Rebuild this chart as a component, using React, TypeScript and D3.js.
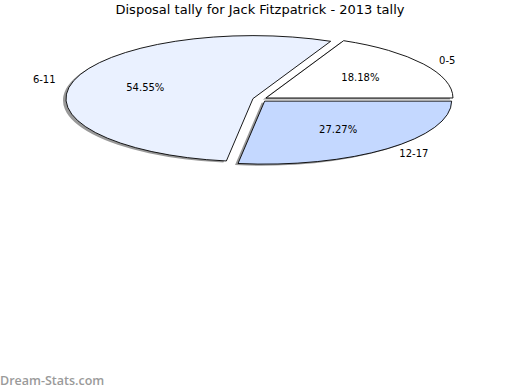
import React from "react";
import * as d3 from "d3";

const categories = ["0-5", "6-11", "12-17"];
const values = [2, 6, 3];
const colors = ["#ffffff", "#eaf1ff", "#c4d8ff"];
const title = "Disposal tally for Jack Fitzpatrick - 2013 tally";

const W = 520;
const H = 390;
const cx = 259.9;
const cy = 99.3;
const rx = 187;
const ry = 63;
const explode = 0.0386;
const shadowDx = -3;
const shadowDy = 1.6;

export default function App() {
  const pie = d3
    .pie<number>()
    .sort(null)
    .startAngle(Math.PI / 2)
    .endAngle(Math.PI / 2 - 2 * Math.PI);
  const arcs = pie(values);
  const total = d3.sum(values);
  const pt = (a: number, r: number, ox: number, oy: number) => [
    ox + r * rx * Math.sin(a),
    oy - r * ry * Math.cos(a),
  ];

  const wedges = arcs.map((d, i) => {
    const mid = (d.startAngle + d.endAngle) / 2;
    const [ax, ay] = pt(mid, explode, cx, cy);
    const [sx, sy] = pt(d.startAngle, 1, ax, ay);
    const [ex, ey] = pt(d.endAngle, 1, ax, ay);
    const large = Math.abs(d.endAngle - d.startAngle) > Math.PI ? 1 : 0;
    const path = `M${ax},${ay}L${sx},${sy}A${rx},${ry} 0 ${large} 0 ${ex},${ey}Z`;
    const [px, py] = pt(mid, 0.6, ax, ay);
    const [lx, ly] = pt(mid, 1.1, ax, ay);
    const pct = ((values[i] / total) * 100).toFixed(2) + "%";
    return { path, px, py, lx, ly, pct, anchor: Math.sin(mid) > 0 ? "start" : "end", i };
  });

  return (
    <svg width={W} height={H} style={{ display: "block", position: "absolute", left: 0, top: 0 }}>
      <defs>
        <filter id="blur" x="-10%" y="-10%" width="120%" height="120%">
          <feGaussianBlur stdDeviation="0.7" />
        </filter>
      </defs>
      <rect width={W} height={H} fill="#ffffff" />
      <text x={260} y={14} textAnchor="middle" fontFamily="DejaVu Sans" fontSize={13} fill="#000">
        {title}
      </text>
      <g>
        {wedges.map((w) => (
          <path
            key={"s" + w.i}
            d={w.path}
            transform={`translate(${shadowDx},${shadowDy})`}
            fill="#6e6e6e"
            opacity={0.7}
            filter="url(#blur)"
          />
        ))}
        {wedges.map((w) => (
          <path key={"w" + w.i} d={w.path} fill={colors[w.i]} stroke="#000" strokeWidth={0.9} strokeLinejoin="miter" />
        ))}
        {wedges.map((w) => (
          <text
            key={"p" + w.i}
            x={w.px}
            y={w.py}
            textAnchor="middle"
            dominantBaseline="central"
            fontFamily="DejaVu Sans"
            fontSize={10}
            fill="#000"
          >
            {w.pct}
          </text>
        ))}
        {wedges.map((w) => (
          <text
            key={"l" + w.i}
            x={w.lx}
            y={w.ly}
            textAnchor={w.anchor}
            dominantBaseline="central"
            fontFamily="DejaVu Sans"
            fontSize={10}
            fill="#000"
          >
            {categories[w.i]}
          </text>
        ))}
      </g>
      <text x={0} y={385} fontFamily="Open Sans" fontWeight={600} fontSize={12.5} fill="#9a9a9a">
        Dream-Stats.com
      </text>
    </svg>
  );
}
